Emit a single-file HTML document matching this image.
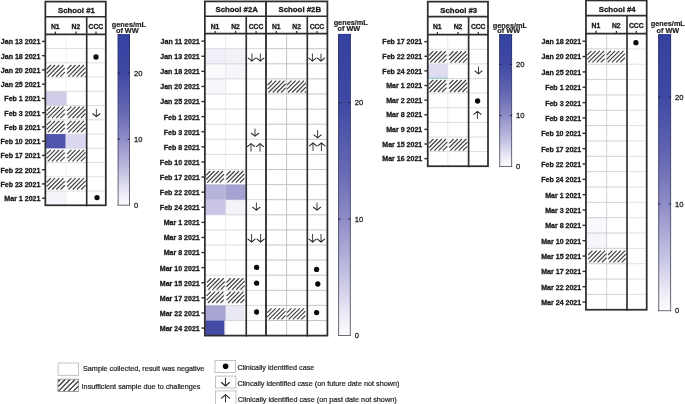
<!DOCTYPE html>
<html><head><meta charset="utf-8"><title>Figure</title>
<style>html,body{margin:0;padding:0;background:#fff;}body{width:685px;height:404px;overflow:hidden;}svg{display:block;will-change:transform;font-family:"Liberation Sans",sans-serif;}</style>
</head><body>
<svg width="685" height="404" viewBox="0 0 685 404">
<defs>
<linearGradient id="cb" x1="0" y1="0" x2="0" y2="1"><stop offset="0" stop-color="#3341a0"/><stop offset="0.23" stop-color="#3f49a4"/><stop offset="0.45" stop-color="#6668b3"/><stop offset="0.615" stop-color="#8f8dc7"/><stop offset="0.8" stop-color="#c3c1e2"/><stop offset="0.92" stop-color="#e9e8f5"/><stop offset="1" stop-color="#fdfdff"/></linearGradient>
<linearGradient id="cbb" gradientUnits="objectBoundingBox" x1="0" y1="0" x2="0" y2="1"><stop offset="0" stop-color="#262d6c"/><stop offset="0.5" stop-color="#4a4c78"/><stop offset="1" stop-color="#6c6c72"/></linearGradient>
</defs>
<rect width="685" height="404" fill="#fff"/>
<rect x="45.35" y="191.05" width="20.65" height="14.25" fill="#f4f4fb"/>
<line x1="45.35" y1="48.55" x2="105.8" y2="48.55" stroke="#d6d6d6" stroke-width="0.8"/>
<line x1="45.35" y1="62.8" x2="105.8" y2="62.8" stroke="#d6d6d6" stroke-width="0.8"/>
<line x1="45.35" y1="77.05" x2="105.8" y2="77.05" stroke="#d6d6d6" stroke-width="0.8"/>
<line x1="45.35" y1="91.3" x2="105.8" y2="91.3" stroke="#d6d6d6" stroke-width="0.8"/>
<line x1="45.35" y1="105.55" x2="105.8" y2="105.55" stroke="#d6d6d6" stroke-width="0.8"/>
<line x1="45.35" y1="119.8" x2="105.8" y2="119.8" stroke="#d6d6d6" stroke-width="0.8"/>
<line x1="45.35" y1="134.05" x2="105.8" y2="134.05" stroke="#d6d6d6" stroke-width="0.8"/>
<line x1="45.35" y1="148.3" x2="105.8" y2="148.3" stroke="#d6d6d6" stroke-width="0.8"/>
<line x1="45.35" y1="162.55" x2="105.8" y2="162.55" stroke="#d6d6d6" stroke-width="0.8"/>
<line x1="45.35" y1="176.8" x2="105.8" y2="176.8" stroke="#d6d6d6" stroke-width="0.8"/>
<line x1="45.35" y1="191.05" x2="105.8" y2="191.05" stroke="#d6d6d6" stroke-width="0.8"/>
<line x1="66" y1="34.3" x2="66" y2="205.3" stroke="#ececec" stroke-width="0.8"/>
<rect x="45.85" y="91.3" width="20.85" height="14.25" fill="#cfcde7"/>
<rect x="45.35" y="134.05" width="20.35" height="14.25" fill="#4f55aa"/>
<rect x="65.7" y="134.05" width="20.3" height="14.25" fill="#d9d8ee"/>
<path d="M46.55 69.3L50.85 65M46.55 73.5L55.05 65M47.7 76.55L59.25 65M51.9 76.55L63.45 65M56.1 76.55L64.8 67.85M60.3 76.55L64.8 72.05" fill="none" stroke="#404040" stroke-width="1.2" stroke-linecap="butt"/>
<path d="M67.1 69.3L71.4 65M67.1 73.5L75.6 65M68.25 76.55L79.8 65M72.45 76.55L84 65M76.65 76.55L85.55 67.65M80.85 76.55L85.55 71.85M85.05 76.55L85.55 76.05" fill="none" stroke="#404040" stroke-width="1.2" stroke-linecap="butt"/>
<path d="M46.55 110.9L50.85 106.6M46.55 115.1L55.05 106.6M47.65 118.2L59.25 106.6M51.85 118.2L63.45 106.6M56.05 118.2L64.8 109.45M60.25 118.2L64.8 113.65" fill="none" stroke="#404040" stroke-width="1.2" stroke-linecap="butt"/>
<path d="M67.1 110.9L71.4 106.6M67.1 115.1L75.6 106.6M68.2 118.2L79.8 106.6M72.4 118.2L84 106.6M76.6 118.2L85.55 109.25M80.8 118.2L85.55 113.45M85 118.2L85.55 117.65" fill="none" stroke="#404040" stroke-width="1.2" stroke-linecap="butt"/>
<path d="M46.55 125.2L50.85 120.9M46.55 129.4L55.05 120.9M47.75 132.4L59.25 120.9M51.95 132.4L63.45 120.9M56.15 132.4L64.8 123.75M60.35 132.4L64.8 127.95" fill="none" stroke="#404040" stroke-width="1.2" stroke-linecap="butt"/>
<path d="M67.1 125.2L71.4 120.9M67.1 129.4L75.6 120.9M68.3 132.4L79.8 120.9M72.5 132.4L84 120.9M76.7 132.4L85.55 123.55M80.9 132.4L85.55 127.75" fill="none" stroke="#404040" stroke-width="1.2" stroke-linecap="butt"/>
<path d="M46.55 154.1L50.85 149.8M46.55 158.3L55.05 149.8M47.75 161.3L59.25 149.8M51.95 161.3L63.45 149.8M56.15 161.3L64.8 152.65M60.35 161.3L64.8 156.85" fill="none" stroke="#404040" stroke-width="1.2" stroke-linecap="butt"/>
<path d="M67.1 154.1L71.4 149.8M67.1 158.3L75.6 149.8M68.3 161.3L79.8 149.8M72.5 161.3L84 149.8M76.7 161.3L85.55 152.45M80.9 161.3L85.55 156.65" fill="none" stroke="#404040" stroke-width="1.2" stroke-linecap="butt"/>
<path d="M46.55 182.5L50.85 178.2M46.55 186.7L55.05 178.2M47.95 189.5L59.25 178.2M52.15 189.5L63.45 178.2M56.35 189.5L64.8 181.05M60.55 189.5L64.8 185.25" fill="none" stroke="#404040" stroke-width="1.2" stroke-linecap="butt"/>
<path d="M67.1 182.5L71.4 178.2M67.1 186.7L75.6 178.2M68.5 189.5L79.8 178.2M72.7 189.5L84 178.2M76.9 189.5L85.55 180.85M81.1 189.5L85.55 185.05" fill="none" stroke="#404040" stroke-width="1.2" stroke-linecap="butt"/>
<circle cx="96" cy="57" r="2.65" fill="#0a0a0a"/>
<circle cx="97" cy="197.6" r="2.65" fill="#0a0a0a"/>
<path d="M96.35 108.9 V116.7" fill="none" stroke="#222" stroke-width="0.88" stroke-linecap="butt"/>
<path d="M92.75 113.75 L96.35 116.7 L99.95 113.75" fill="none" stroke="#222" stroke-width="1.03" stroke-linecap="round" stroke-linejoin="miter"/>
<rect x="45.35" y="1.6" width="60.45" height="203.7" fill="none" stroke="#2e2e2e" stroke-width="1.75"/>
<line x1="45.35" y1="16.7" x2="105.8" y2="16.7" stroke="#2e2e2e" stroke-width="1.65"/>
<line x1="45.35" y1="34.3" x2="105.8" y2="34.3" stroke="#2e2e2e" stroke-width="1.7"/>
<line x1="86.7" y1="16.7" x2="86.7" y2="206.3" stroke="#2e2e2e" stroke-width="1.65"/>
<text x="76.45" y="13.3" font-size="7.8" font-weight="bold" text-anchor="middle" fill="#1a1a1a" stroke="#1a1a1a" stroke-width="0.3">School #1</text>
<text x="55.3" y="29" font-size="6.75" font-weight="bold" text-anchor="middle" fill="#1a1a1a" stroke="#1a1a1a" stroke-width="0.3">N1</text>
<line x1="55.4" y1="31.6" x2="55.4" y2="34.3" stroke="#2e2e2e" stroke-width="1.25"/>
<text x="75.9" y="29" font-size="6.75" font-weight="bold" text-anchor="middle" fill="#1a1a1a" stroke="#1a1a1a" stroke-width="0.3">N2</text>
<line x1="76" y1="31.6" x2="76" y2="34.3" stroke="#2e2e2e" stroke-width="1.25"/>
<text x="95.9" y="29" font-size="6.75" font-weight="bold" text-anchor="middle" fill="#1a1a1a" stroke="#1a1a1a" stroke-width="0.3">CCC</text>
<line x1="96" y1="31.6" x2="96" y2="34.3" stroke="#2e2e2e" stroke-width="1.25"/>
<text x="40.4" y="44.32" font-size="7.05" font-weight="bold" text-anchor="end" fill="#1a1a1a" stroke="#1a1a1a" stroke-width="0.3">Jan 13 2021</text>
<line x1="41.95" y1="41.42" x2="45.35" y2="41.42" stroke="#2e2e2e" stroke-width="1.4"/>
<text x="40.4" y="58.57" font-size="7.05" font-weight="bold" text-anchor="end" fill="#1a1a1a" stroke="#1a1a1a" stroke-width="0.3">Jan 18 2021</text>
<line x1="41.95" y1="55.67" x2="45.35" y2="55.67" stroke="#2e2e2e" stroke-width="1.4"/>
<text x="40.4" y="72.83" font-size="7.05" font-weight="bold" text-anchor="end" fill="#1a1a1a" stroke="#1a1a1a" stroke-width="0.3">Jan 20 2021</text>
<line x1="41.95" y1="69.92" x2="45.35" y2="69.92" stroke="#2e2e2e" stroke-width="1.4"/>
<text x="40.4" y="87.08" font-size="7.05" font-weight="bold" text-anchor="end" fill="#1a1a1a" stroke="#1a1a1a" stroke-width="0.3">Jan 25 2021</text>
<line x1="41.95" y1="84.17" x2="45.35" y2="84.17" stroke="#2e2e2e" stroke-width="1.4"/>
<text x="40.4" y="101.33" font-size="7.05" font-weight="bold" text-anchor="end" fill="#1a1a1a" stroke="#1a1a1a" stroke-width="0.3">Feb 1 2021</text>
<line x1="41.95" y1="98.42" x2="45.35" y2="98.42" stroke="#2e2e2e" stroke-width="1.4"/>
<text x="40.4" y="115.58" font-size="7.05" font-weight="bold" text-anchor="end" fill="#1a1a1a" stroke="#1a1a1a" stroke-width="0.3">Feb 3 2021</text>
<line x1="41.95" y1="112.67" x2="45.35" y2="112.67" stroke="#2e2e2e" stroke-width="1.4"/>
<text x="40.4" y="129.82" font-size="7.05" font-weight="bold" text-anchor="end" fill="#1a1a1a" stroke="#1a1a1a" stroke-width="0.3">Feb 8 2021</text>
<line x1="41.95" y1="126.92" x2="45.35" y2="126.92" stroke="#2e2e2e" stroke-width="1.4"/>
<text x="40.4" y="144.08" font-size="7.05" font-weight="bold" text-anchor="end" fill="#1a1a1a" stroke="#1a1a1a" stroke-width="0.3">Feb 10 2021</text>
<line x1="41.95" y1="141.18" x2="45.35" y2="141.18" stroke="#2e2e2e" stroke-width="1.4"/>
<text x="40.4" y="158.33" font-size="7.05" font-weight="bold" text-anchor="end" fill="#1a1a1a" stroke="#1a1a1a" stroke-width="0.3">Feb 17 2021</text>
<line x1="41.95" y1="155.43" x2="45.35" y2="155.43" stroke="#2e2e2e" stroke-width="1.4"/>
<text x="40.4" y="172.58" font-size="7.05" font-weight="bold" text-anchor="end" fill="#1a1a1a" stroke="#1a1a1a" stroke-width="0.3">Feb 22 2021</text>
<line x1="41.95" y1="169.68" x2="45.35" y2="169.68" stroke="#2e2e2e" stroke-width="1.4"/>
<text x="40.4" y="186.83" font-size="7.05" font-weight="bold" text-anchor="end" fill="#1a1a1a" stroke="#1a1a1a" stroke-width="0.3">Feb 23 2021</text>
<line x1="41.95" y1="183.93" x2="45.35" y2="183.93" stroke="#2e2e2e" stroke-width="1.4"/>
<text x="40.4" y="201.08" font-size="7.05" font-weight="bold" text-anchor="end" fill="#1a1a1a" stroke="#1a1a1a" stroke-width="0.3">Mar 1 2021</text>
<line x1="41.95" y1="198.18" x2="45.35" y2="198.18" stroke="#2e2e2e" stroke-width="1.4"/>
<rect x="117.9" y="34.2" width="11.8" height="171.2" fill="url(#cb)"/>
<rect x="117.6" y="34.2" width="1" height="171.5" fill="url(#cbb)"/>
<rect x="129" y="34.2" width="1" height="171.5" fill="url(#cbb)"/>
<line x1="117.6" y1="205.2" x2="130" y2="205.2" stroke="#6a6a72" stroke-width="1"/>
<line x1="117.6" y1="34.5" x2="130" y2="34.5" stroke="#2c3580" stroke-width="0.6"/>
<text x="134" y="207.85" font-size="7.6" font-weight="normal" text-anchor="start" fill="#1c1c1c" stroke="#1c1c1c" stroke-width="0.26">0</text>
<line x1="117.6" y1="139.12" x2="120" y2="139.12" stroke="#1c1c30" stroke-width="0.9"/>
<line x1="127.6" y1="139.12" x2="130" y2="139.12" stroke="#1c1c30" stroke-width="0.9"/>
<text x="134" y="141.87" font-size="7.6" font-weight="normal" text-anchor="start" fill="#1c1c1c" stroke="#1c1c1c" stroke-width="0.26">10</text>
<line x1="117.6" y1="73.13" x2="120" y2="73.13" stroke="#1c1c30" stroke-width="0.9"/>
<line x1="127.6" y1="73.13" x2="130" y2="73.13" stroke="#1c1c30" stroke-width="0.9"/>
<text x="134" y="75.88" font-size="7.6" font-weight="normal" text-anchor="start" fill="#1c1c1c" stroke="#1c1c1c" stroke-width="0.26">20</text>
<text x="128.9" y="27" font-size="7.3" font-weight="bold" text-anchor="middle" fill="#1c1c1c" stroke="#1c1c1c" stroke-width="0.18">genes/mL</text>
<text x="127.3" y="32.6" font-size="7.3" font-weight="bold" text-anchor="middle" fill="#1c1c1c" stroke="#1c1c1c" stroke-width="0.18">of WW</text>
<rect x="204.85" y="48.7" width="20.75" height="15.1" fill="#f0f0f8"/>
<rect x="225.6" y="48.7" width="20.65" height="15.1" fill="#f2f2f9"/>
<rect x="204.85" y="63.8" width="20.75" height="15.1" fill="#fafafd"/>
<rect x="225.6" y="63.8" width="20.65" height="15.1" fill="#f6f6fb"/>
<rect x="204.85" y="78.9" width="20.75" height="15.1" fill="#f7f7fc"/>
<rect x="225.6" y="199.7" width="20.65" height="15.1" fill="#f4f3fa"/>
<rect x="225.6" y="305.4" width="18.8" height="15.1" fill="#eaeaf5"/>
<line x1="204.85" y1="48.7" x2="266" y2="48.7" stroke="#d0d0d0" stroke-width="0.8"/>
<line x1="204.85" y1="63.8" x2="266" y2="63.8" stroke="#d0d0d0" stroke-width="0.8"/>
<line x1="204.85" y1="78.9" x2="266" y2="78.9" stroke="#d0d0d0" stroke-width="0.8"/>
<line x1="204.85" y1="94" x2="266" y2="94" stroke="#d0d0d0" stroke-width="0.8"/>
<line x1="204.85" y1="109.1" x2="266" y2="109.1" stroke="#d0d0d0" stroke-width="0.8"/>
<line x1="204.85" y1="124.2" x2="266" y2="124.2" stroke="#d0d0d0" stroke-width="0.8"/>
<line x1="204.85" y1="139.3" x2="266" y2="139.3" stroke="#d0d0d0" stroke-width="0.8"/>
<line x1="204.85" y1="154.4" x2="266" y2="154.4" stroke="#d0d0d0" stroke-width="0.8"/>
<line x1="204.85" y1="169.5" x2="266" y2="169.5" stroke="#d0d0d0" stroke-width="0.8"/>
<line x1="204.85" y1="184.6" x2="266" y2="184.6" stroke="#d0d0d0" stroke-width="0.8"/>
<line x1="204.85" y1="199.7" x2="266" y2="199.7" stroke="#d0d0d0" stroke-width="0.8"/>
<line x1="204.85" y1="214.8" x2="266" y2="214.8" stroke="#d0d0d0" stroke-width="0.8"/>
<line x1="204.85" y1="229.9" x2="266" y2="229.9" stroke="#d0d0d0" stroke-width="0.8"/>
<line x1="204.85" y1="245" x2="266" y2="245" stroke="#d0d0d0" stroke-width="0.8"/>
<line x1="204.85" y1="260.1" x2="266" y2="260.1" stroke="#d0d0d0" stroke-width="0.8"/>
<line x1="204.85" y1="275.2" x2="266" y2="275.2" stroke="#d0d0d0" stroke-width="0.8"/>
<line x1="204.85" y1="290.3" x2="266" y2="290.3" stroke="#d0d0d0" stroke-width="0.8"/>
<line x1="204.85" y1="305.4" x2="266" y2="305.4" stroke="#d0d0d0" stroke-width="0.8"/>
<line x1="204.85" y1="320.5" x2="266" y2="320.5" stroke="#d0d0d0" stroke-width="0.8"/>
<line x1="225.6" y1="33.6" x2="225.6" y2="335.6" stroke="#e4e4e4" stroke-width="0.8"/>
<line x1="266" y1="48.7" x2="327.4" y2="48.7" stroke="#b6b6b6" stroke-width="0.8"/>
<line x1="266" y1="63.8" x2="327.4" y2="63.8" stroke="#b6b6b6" stroke-width="0.8"/>
<line x1="266" y1="78.9" x2="327.4" y2="78.9" stroke="#b6b6b6" stroke-width="0.8"/>
<line x1="266" y1="94" x2="327.4" y2="94" stroke="#b6b6b6" stroke-width="0.8"/>
<line x1="266" y1="109.1" x2="327.4" y2="109.1" stroke="#b6b6b6" stroke-width="0.8"/>
<line x1="266" y1="124.2" x2="327.4" y2="124.2" stroke="#b6b6b6" stroke-width="0.8"/>
<line x1="266" y1="139.3" x2="327.4" y2="139.3" stroke="#b6b6b6" stroke-width="0.8"/>
<line x1="266" y1="154.4" x2="327.4" y2="154.4" stroke="#b6b6b6" stroke-width="0.8"/>
<line x1="266" y1="169.5" x2="327.4" y2="169.5" stroke="#b6b6b6" stroke-width="0.8"/>
<line x1="266" y1="184.6" x2="327.4" y2="184.6" stroke="#b6b6b6" stroke-width="0.8"/>
<line x1="266" y1="199.7" x2="327.4" y2="199.7" stroke="#b6b6b6" stroke-width="0.8"/>
<line x1="266" y1="214.8" x2="327.4" y2="214.8" stroke="#b6b6b6" stroke-width="0.8"/>
<line x1="266" y1="229.9" x2="327.4" y2="229.9" stroke="#b6b6b6" stroke-width="0.8"/>
<line x1="266" y1="245" x2="327.4" y2="245" stroke="#b6b6b6" stroke-width="0.8"/>
<line x1="266" y1="260.1" x2="327.4" y2="260.1" stroke="#b6b6b6" stroke-width="0.8"/>
<line x1="266" y1="275.2" x2="327.4" y2="275.2" stroke="#b6b6b6" stroke-width="0.8"/>
<line x1="266" y1="290.3" x2="327.4" y2="290.3" stroke="#b6b6b6" stroke-width="0.8"/>
<line x1="266" y1="305.4" x2="327.4" y2="305.4" stroke="#b6b6b6" stroke-width="0.8"/>
<line x1="266" y1="320.5" x2="327.4" y2="320.5" stroke="#b6b6b6" stroke-width="0.8"/>
<line x1="286.6" y1="33.6" x2="286.6" y2="335.6" stroke="#b4b4b4" stroke-width="0.8"/>
<rect x="204.85" y="184.6" width="20.75" height="15.1" fill="#b6b3da"/>
<rect x="225.6" y="184.6" width="20.65" height="15.1" fill="#a5a1d1"/>
<rect x="204.85" y="199.7" width="20.75" height="15.1" fill="#c9c6e5"/>
<rect x="204.85" y="305.4" width="20.75" height="15.1" fill="#a9a5d2"/>
<rect x="205.3" y="320.5" width="19.1" height="15.1" fill="#444ba5"/>
<path d="M267.65 85L271.95 80.7M267.65 89.2L276.15 80.7M268.55 92.5L280.35 80.7M272.75 92.5L284.55 80.7M276.95 92.5L285.7 83.75M281.15 92.5L285.7 87.95" fill="none" stroke="#404040" stroke-width="1.2" stroke-linecap="butt"/>
<path d="M287.1 85L291.4 80.7M287.1 89.2L295.6 80.7M288 92.5L299.8 80.7M292.2 92.5L304 80.7M296.4 92.5L305.95 82.95M300.6 92.5L305.95 87.15M304.8 92.5L305.95 91.35" fill="none" stroke="#404040" stroke-width="1.2" stroke-linecap="butt"/>
<path d="M206.05 175.3L210.35 171M206.05 179.5L214.55 171M207.2 182.55L218.75 171M211.4 182.55L222.95 171M215.6 182.55L223.9 174.25M219.8 182.55L223.9 178.45" fill="none" stroke="#404040" stroke-width="1.2" stroke-linecap="butt"/>
<path d="M226.3 175.3L230.6 171M226.3 179.5L234.8 171M227.45 182.55L239 171M231.65 182.55L243.2 171M235.85 182.55L244.45 173.95M240.05 182.55L244.45 178.15" fill="none" stroke="#404040" stroke-width="1.2" stroke-linecap="butt"/>
<path d="M206.85 282.55L211.15 278.25M206.85 286.75L215.35 278.25M208.25 289.55L219.55 278.25M212.45 289.55L223.75 278.25M216.65 289.55L224.7 281.5M220.85 289.55L224.7 285.7" fill="none" stroke="#404040" stroke-width="1.2" stroke-linecap="butt"/>
<path d="M226.4 282.55L230.7 278.25M226.4 286.75L234.9 278.25M227.8 289.55L239.1 278.25M232 289.55L243.3 278.25M236.2 289.55L244.65 281.1M240.4 289.55L244.65 285.3" fill="none" stroke="#404040" stroke-width="1.2" stroke-linecap="butt"/>
<path d="M206.55 295.95L210.85 291.65M206.55 300.15L215.05 291.65M207.9 303L219.25 291.65M212.1 303L223.45 291.65M216.3 303L223.9 295.4M220.5 303L223.9 299.6" fill="none" stroke="#404040" stroke-width="1.2" stroke-linecap="butt"/>
<path d="M226.6 295.95L230.9 291.65M226.6 300.15L235.1 291.65M227.95 303L239.3 291.65M232.15 303L243.5 291.65M236.35 303L244.45 294.9M240.55 303L244.45 299.1" fill="none" stroke="#404040" stroke-width="1.2" stroke-linecap="butt"/>
<path d="M267.25 312.6L271.55 308.3M267.25 316.8L275.75 308.3M268.85 319.4L279.95 308.3M273.05 319.4L284.15 308.3M277.25 319.4L285.5 311.15M281.45 319.4L285.5 315.35" fill="none" stroke="#404040" stroke-width="1.2" stroke-linecap="butt"/>
<path d="M287.1 312.6L291.4 308.3M287.1 316.8L295.6 308.3M288.7 319.4L299.8 308.3M292.9 319.4L304 308.3M297.1 319.4L305.35 311.15M301.3 319.4L305.35 315.35" fill="none" stroke="#404040" stroke-width="1.2" stroke-linecap="butt"/>
<circle cx="256.6" cy="267.4" r="2.65" fill="#0a0a0a"/>
<circle cx="316.6" cy="269.4" r="2.65" fill="#0a0a0a"/>
<circle cx="256.6" cy="283.2" r="2.65" fill="#0a0a0a"/>
<circle cx="317.8" cy="284" r="2.65" fill="#0a0a0a"/>
<circle cx="256.5" cy="312" r="2.65" fill="#0a0a0a"/>
<circle cx="316.6" cy="312.6" r="2.65" fill="#0a0a0a"/>
<path d="M251.9 53.6 V61.1" fill="none" stroke="#222" stroke-width="0.88" stroke-linecap="butt"/>
<path d="M248.3 58.15 L251.9 61.1 L255.5 58.15" fill="none" stroke="#222" stroke-width="1.03" stroke-linecap="round" stroke-linejoin="miter"/>
<path d="M260.3 53.6 V61.1" fill="none" stroke="#222" stroke-width="0.88" stroke-linecap="butt"/>
<path d="M256.7 58.15 L260.3 61.1 L263.9 58.15" fill="none" stroke="#222" stroke-width="1.03" stroke-linecap="round" stroke-linejoin="miter"/>
<path d="M312.4 53.6 V61.1" fill="none" stroke="#222" stroke-width="0.88" stroke-linecap="butt"/>
<path d="M308.8 58.15 L312.4 61.1 L316 58.15" fill="none" stroke="#222" stroke-width="1.03" stroke-linecap="round" stroke-linejoin="miter"/>
<path d="M321 53.6 V61.1" fill="none" stroke="#222" stroke-width="0.88" stroke-linecap="butt"/>
<path d="M317.4 58.15 L321 61.1 L324.6 58.15" fill="none" stroke="#222" stroke-width="1.03" stroke-linecap="round" stroke-linejoin="miter"/>
<path d="M255 128.6 V136.2" fill="none" stroke="#222" stroke-width="0.88" stroke-linecap="butt"/>
<path d="M251.4 133.25 L255 136.2 L258.6 133.25" fill="none" stroke="#222" stroke-width="1.03" stroke-linecap="round" stroke-linejoin="miter"/>
<path d="M317.6 130 V137.8" fill="none" stroke="#222" stroke-width="0.88" stroke-linecap="butt"/>
<path d="M314 134.85 L317.6 137.8 L321.2 134.85" fill="none" stroke="#222" stroke-width="1.03" stroke-linecap="round" stroke-linejoin="miter"/>
<path d="M251 151.6 V143.6" fill="none" stroke="#222" stroke-width="0.88" stroke-linecap="butt"/>
<path d="M247.4 146.55 L251 143.6 L254.6 146.55" fill="none" stroke="#222" stroke-width="1.03" stroke-linecap="round" stroke-linejoin="miter"/>
<path d="M260 151.6 V143.6" fill="none" stroke="#222" stroke-width="0.88" stroke-linecap="butt"/>
<path d="M256.4 146.55 L260 143.6 L263.6 146.55" fill="none" stroke="#222" stroke-width="1.03" stroke-linecap="round" stroke-linejoin="miter"/>
<path d="M313 151 V143" fill="none" stroke="#222" stroke-width="0.88" stroke-linecap="butt"/>
<path d="M309.4 145.95 L313 143 L316.6 145.95" fill="none" stroke="#222" stroke-width="1.03" stroke-linecap="round" stroke-linejoin="miter"/>
<path d="M321.4 151 V143" fill="none" stroke="#222" stroke-width="0.88" stroke-linecap="butt"/>
<path d="M317.8 145.95 L321.4 143 L325 145.95" fill="none" stroke="#222" stroke-width="1.03" stroke-linecap="round" stroke-linejoin="miter"/>
<path d="M256.4 202.6 V210.2" fill="none" stroke="#222" stroke-width="0.88" stroke-linecap="butt"/>
<path d="M252.8 207.25 L256.4 210.2 L260 207.25" fill="none" stroke="#222" stroke-width="1.03" stroke-linecap="round" stroke-linejoin="miter"/>
<path d="M317 202.6 V210.2" fill="none" stroke="#222" stroke-width="0.88" stroke-linecap="butt"/>
<path d="M313.4 207.25 L317 210.2 L320.6 207.25" fill="none" stroke="#222" stroke-width="1.03" stroke-linecap="round" stroke-linejoin="miter"/>
<path d="M251.6 234 V242" fill="none" stroke="#222" stroke-width="0.88" stroke-linecap="butt"/>
<path d="M248 239.05 L251.6 242 L255.2 239.05" fill="none" stroke="#222" stroke-width="1.03" stroke-linecap="round" stroke-linejoin="miter"/>
<path d="M260.6 234 V242" fill="none" stroke="#222" stroke-width="0.88" stroke-linecap="butt"/>
<path d="M257 239.05 L260.6 242 L264.2 239.05" fill="none" stroke="#222" stroke-width="1.03" stroke-linecap="round" stroke-linejoin="miter"/>
<path d="M312.6 234 V242" fill="none" stroke="#222" stroke-width="0.88" stroke-linecap="butt"/>
<path d="M309 239.05 L312.6 242 L316.2 239.05" fill="none" stroke="#222" stroke-width="1.03" stroke-linecap="round" stroke-linejoin="miter"/>
<path d="M321 234 V242" fill="none" stroke="#222" stroke-width="0.88" stroke-linecap="butt"/>
<path d="M317.4 239.05 L321 242 L324.6 239.05" fill="none" stroke="#222" stroke-width="1.03" stroke-linecap="round" stroke-linejoin="miter"/>
<rect x="204.85" y="1.4" width="122.55" height="334.2" fill="none" stroke="#2e2e2e" stroke-width="1.75"/>
<line x1="204.85" y1="16.2" x2="327.4" y2="16.2" stroke="#2e2e2e" stroke-width="1.65"/>
<line x1="204.85" y1="33.6" x2="327.4" y2="33.6" stroke="#2e2e2e" stroke-width="1.7"/>
<line x1="246.25" y1="16.2" x2="246.25" y2="336.6" stroke="#2e2e2e" stroke-width="1.65"/>
<line x1="307.3" y1="16.2" x2="307.3" y2="336.6" stroke="#2e2e2e" stroke-width="1.65"/>
<line x1="266" y1="1.4" x2="266" y2="335.6" stroke="#2e2e2e" stroke-width="1.85"/>
<text x="236.7" y="12" font-size="7.8" font-weight="bold" text-anchor="middle" fill="#1a1a1a" stroke="#1a1a1a" stroke-width="0.3">School #2A</text>
<text x="299.8" y="12" font-size="7.8" font-weight="bold" text-anchor="middle" fill="#1a1a1a" stroke="#1a1a1a" stroke-width="0.3">School #2B</text>
<text x="215" y="28.7" font-size="6.75" font-weight="bold" text-anchor="middle" fill="#1a1a1a" stroke="#1a1a1a" stroke-width="0.3">N1</text>
<line x1="215.1" y1="30.9" x2="215.1" y2="33.6" stroke="#2e2e2e" stroke-width="1.25"/>
<text x="235.45" y="28.7" font-size="6.75" font-weight="bold" text-anchor="middle" fill="#1a1a1a" stroke="#1a1a1a" stroke-width="0.3">N2</text>
<line x1="235.55" y1="30.9" x2="235.55" y2="33.6" stroke="#2e2e2e" stroke-width="1.25"/>
<text x="256" y="28.7" font-size="6.75" font-weight="bold" text-anchor="middle" fill="#1a1a1a" stroke="#1a1a1a" stroke-width="0.3">CCC</text>
<line x1="256.1" y1="30.9" x2="256.1" y2="33.6" stroke="#2e2e2e" stroke-width="1.25"/>
<text x="276.25" y="28.7" font-size="6.75" font-weight="bold" text-anchor="middle" fill="#1a1a1a" stroke="#1a1a1a" stroke-width="0.3">N1</text>
<line x1="276.35" y1="30.9" x2="276.35" y2="33.6" stroke="#2e2e2e" stroke-width="1.25"/>
<text x="296.6" y="28.7" font-size="6.75" font-weight="bold" text-anchor="middle" fill="#1a1a1a" stroke="#1a1a1a" stroke-width="0.3">N2</text>
<line x1="296.7" y1="30.9" x2="296.7" y2="33.6" stroke="#2e2e2e" stroke-width="1.25"/>
<text x="316.95" y="28.7" font-size="6.75" font-weight="bold" text-anchor="middle" fill="#1a1a1a" stroke="#1a1a1a" stroke-width="0.3">CCC</text>
<line x1="317.05" y1="30.9" x2="317.05" y2="33.6" stroke="#2e2e2e" stroke-width="1.25"/>
<text x="199.8" y="44.05" font-size="7.05" font-weight="bold" text-anchor="end" fill="#1a1a1a" stroke="#1a1a1a" stroke-width="0.3">Jan 11 2021</text>
<line x1="201.45" y1="41.15" x2="204.85" y2="41.15" stroke="#2e2e2e" stroke-width="1.4"/>
<text x="199.8" y="59.15" font-size="7.05" font-weight="bold" text-anchor="end" fill="#1a1a1a" stroke="#1a1a1a" stroke-width="0.3">Jan 13 2021</text>
<line x1="201.45" y1="56.25" x2="204.85" y2="56.25" stroke="#2e2e2e" stroke-width="1.4"/>
<text x="199.8" y="74.25" font-size="7.05" font-weight="bold" text-anchor="end" fill="#1a1a1a" stroke="#1a1a1a" stroke-width="0.3">Jan 18 2021</text>
<line x1="201.45" y1="71.35" x2="204.85" y2="71.35" stroke="#2e2e2e" stroke-width="1.4"/>
<text x="199.8" y="89.35" font-size="7.05" font-weight="bold" text-anchor="end" fill="#1a1a1a" stroke="#1a1a1a" stroke-width="0.3">Jan 20 2021</text>
<line x1="201.45" y1="86.45" x2="204.85" y2="86.45" stroke="#2e2e2e" stroke-width="1.4"/>
<text x="199.8" y="104.45" font-size="7.05" font-weight="bold" text-anchor="end" fill="#1a1a1a" stroke="#1a1a1a" stroke-width="0.3">Jan 25 2021</text>
<line x1="201.45" y1="101.55" x2="204.85" y2="101.55" stroke="#2e2e2e" stroke-width="1.4"/>
<text x="199.8" y="119.55" font-size="7.05" font-weight="bold" text-anchor="end" fill="#1a1a1a" stroke="#1a1a1a" stroke-width="0.3">Feb 1 2021</text>
<line x1="201.45" y1="116.65" x2="204.85" y2="116.65" stroke="#2e2e2e" stroke-width="1.4"/>
<text x="199.8" y="134.65" font-size="7.05" font-weight="bold" text-anchor="end" fill="#1a1a1a" stroke="#1a1a1a" stroke-width="0.3">Feb 3 2021</text>
<line x1="201.45" y1="131.75" x2="204.85" y2="131.75" stroke="#2e2e2e" stroke-width="1.4"/>
<text x="199.8" y="149.75" font-size="7.05" font-weight="bold" text-anchor="end" fill="#1a1a1a" stroke="#1a1a1a" stroke-width="0.3">Feb 8 2021</text>
<line x1="201.45" y1="146.85" x2="204.85" y2="146.85" stroke="#2e2e2e" stroke-width="1.4"/>
<text x="199.8" y="164.85" font-size="7.05" font-weight="bold" text-anchor="end" fill="#1a1a1a" stroke="#1a1a1a" stroke-width="0.3">Feb 10 2021</text>
<line x1="201.45" y1="161.95" x2="204.85" y2="161.95" stroke="#2e2e2e" stroke-width="1.4"/>
<text x="199.8" y="179.95" font-size="7.05" font-weight="bold" text-anchor="end" fill="#1a1a1a" stroke="#1a1a1a" stroke-width="0.3">Feb 17 2021</text>
<line x1="201.45" y1="177.05" x2="204.85" y2="177.05" stroke="#2e2e2e" stroke-width="1.4"/>
<text x="199.8" y="195.05" font-size="7.05" font-weight="bold" text-anchor="end" fill="#1a1a1a" stroke="#1a1a1a" stroke-width="0.3">Feb 22 2021</text>
<line x1="201.45" y1="192.15" x2="204.85" y2="192.15" stroke="#2e2e2e" stroke-width="1.4"/>
<text x="199.8" y="210.15" font-size="7.05" font-weight="bold" text-anchor="end" fill="#1a1a1a" stroke="#1a1a1a" stroke-width="0.3">Feb 24 2021</text>
<line x1="201.45" y1="207.25" x2="204.85" y2="207.25" stroke="#2e2e2e" stroke-width="1.4"/>
<text x="199.8" y="225.25" font-size="7.05" font-weight="bold" text-anchor="end" fill="#1a1a1a" stroke="#1a1a1a" stroke-width="0.3">Mar 1 2021</text>
<line x1="201.45" y1="222.35" x2="204.85" y2="222.35" stroke="#2e2e2e" stroke-width="1.4"/>
<text x="199.8" y="240.35" font-size="7.05" font-weight="bold" text-anchor="end" fill="#1a1a1a" stroke="#1a1a1a" stroke-width="0.3">Mar 3 2021</text>
<line x1="201.45" y1="237.45" x2="204.85" y2="237.45" stroke="#2e2e2e" stroke-width="1.4"/>
<text x="199.8" y="255.45" font-size="7.05" font-weight="bold" text-anchor="end" fill="#1a1a1a" stroke="#1a1a1a" stroke-width="0.3">Mar 8 2021</text>
<line x1="201.45" y1="252.55" x2="204.85" y2="252.55" stroke="#2e2e2e" stroke-width="1.4"/>
<text x="199.8" y="270.55" font-size="7.05" font-weight="bold" text-anchor="end" fill="#1a1a1a" stroke="#1a1a1a" stroke-width="0.3">Mar 10 2021</text>
<line x1="201.45" y1="267.65" x2="204.85" y2="267.65" stroke="#2e2e2e" stroke-width="1.4"/>
<text x="199.8" y="285.65" font-size="7.05" font-weight="bold" text-anchor="end" fill="#1a1a1a" stroke="#1a1a1a" stroke-width="0.3">Mar 15 2021</text>
<line x1="201.45" y1="282.75" x2="204.85" y2="282.75" stroke="#2e2e2e" stroke-width="1.4"/>
<text x="199.8" y="300.75" font-size="7.05" font-weight="bold" text-anchor="end" fill="#1a1a1a" stroke="#1a1a1a" stroke-width="0.3">Mar 17 2021</text>
<line x1="201.45" y1="297.85" x2="204.85" y2="297.85" stroke="#2e2e2e" stroke-width="1.4"/>
<text x="199.8" y="315.85" font-size="7.05" font-weight="bold" text-anchor="end" fill="#1a1a1a" stroke="#1a1a1a" stroke-width="0.3">Mar 22 2021</text>
<line x1="201.45" y1="312.95" x2="204.85" y2="312.95" stroke="#2e2e2e" stroke-width="1.4"/>
<text x="199.8" y="330.95" font-size="7.05" font-weight="bold" text-anchor="end" fill="#1a1a1a" stroke="#1a1a1a" stroke-width="0.3">Mar 24 2021</text>
<line x1="201.45" y1="328.05" x2="204.85" y2="328.05" stroke="#2e2e2e" stroke-width="1.4"/>
<rect x="338.4" y="34" width="12.1" height="301.7" fill="url(#cb)"/>
<rect x="338.1" y="34" width="1" height="302" fill="url(#cbb)"/>
<rect x="349.8" y="34" width="1" height="302" fill="url(#cbb)"/>
<line x1="338.1" y1="335.5" x2="350.8" y2="335.5" stroke="#6a6a72" stroke-width="1"/>
<line x1="338.1" y1="34.3" x2="350.8" y2="34.3" stroke="#2c3580" stroke-width="0.6"/>
<text x="354.8" y="338.15" font-size="7.6" font-weight="normal" text-anchor="start" fill="#1c1c1c" stroke="#1c1c1c" stroke-width="0.26">0</text>
<line x1="338.1" y1="219.03" x2="340.5" y2="219.03" stroke="#1c1c30" stroke-width="0.9"/>
<line x1="348.4" y1="219.03" x2="350.8" y2="219.03" stroke="#1c1c30" stroke-width="0.9"/>
<text x="354.8" y="221.78" font-size="7.6" font-weight="normal" text-anchor="start" fill="#1c1c1c" stroke="#1c1c1c" stroke-width="0.26">10</text>
<line x1="338.1" y1="102.66" x2="340.5" y2="102.66" stroke="#1c1c30" stroke-width="0.9"/>
<line x1="348.4" y1="102.66" x2="350.8" y2="102.66" stroke="#1c1c30" stroke-width="0.9"/>
<text x="354.8" y="105.41" font-size="7.6" font-weight="normal" text-anchor="start" fill="#1c1c1c" stroke="#1c1c1c" stroke-width="0.26">20</text>
<text x="350.7" y="25.1" font-size="7.3" font-weight="bold" text-anchor="middle" fill="#1c1c1c" stroke="#1c1c1c" stroke-width="0.18">genes/mL</text>
<text x="348.9" y="30.7" font-size="7.3" font-weight="bold" text-anchor="middle" fill="#1c1c1c" stroke="#1c1c1c" stroke-width="0.18">of WW</text>
<line x1="427.75" y1="49.27" x2="488" y2="49.27" stroke="#d2d2d2" stroke-width="0.8"/>
<line x1="427.75" y1="63.89" x2="488" y2="63.89" stroke="#d2d2d2" stroke-width="0.8"/>
<line x1="427.75" y1="78.51" x2="488" y2="78.51" stroke="#d2d2d2" stroke-width="0.8"/>
<line x1="427.75" y1="93.13" x2="488" y2="93.13" stroke="#d2d2d2" stroke-width="0.8"/>
<line x1="427.75" y1="107.75" x2="488" y2="107.75" stroke="#d2d2d2" stroke-width="0.8"/>
<line x1="427.75" y1="122.37" x2="488" y2="122.37" stroke="#d2d2d2" stroke-width="0.8"/>
<line x1="427.75" y1="136.99" x2="488" y2="136.99" stroke="#d2d2d2" stroke-width="0.8"/>
<line x1="427.75" y1="151.61" x2="488" y2="151.61" stroke="#d2d2d2" stroke-width="0.8"/>
<line x1="447.8" y1="34.65" x2="447.8" y2="166.23" stroke="#e2e2e2" stroke-width="0.8"/>
<rect x="427.75" y="63.89" width="20.05" height="14.62" fill="#dddcf0"/>
<path d="M428.85 55.55L433.15 51.25M428.85 59.75L437.35 51.25M430.2 62.6L441.55 51.25M434.4 62.6L445.75 51.25M438.6 62.6L446.6 54.6M442.8 62.6L446.6 58.8" fill="none" stroke="#404040" stroke-width="1.2" stroke-linecap="butt"/>
<path d="M449.1 55.55L453.4 51.25M449.1 59.75L457.6 51.25M450.45 62.6L461.8 51.25M454.65 62.6L466 51.25M458.85 62.6L467.25 54.2M463.05 62.6L467.25 58.4" fill="none" stroke="#404040" stroke-width="1.2" stroke-linecap="butt"/>
<path d="M428.85 84.3L433.15 80M428.85 88.5L437.35 80M429.55 92L441.55 80M433.75 92L445.75 80M437.95 92L446.6 83.35M442.15 92L446.6 87.55" fill="none" stroke="#404040" stroke-width="1.2" stroke-linecap="butt"/>
<path d="M449.1 84.3L453.4 80M449.1 88.5L457.6 80M449.8 92L461.8 80M454 92L466 80M458.2 92L467.25 82.95M462.4 92L467.25 87.15M466.6 92L467.25 91.35" fill="none" stroke="#404040" stroke-width="1.2" stroke-linecap="butt"/>
<path d="M429.15 143.3L433.45 139M429.15 147.5L437.65 139M430.15 150.7L441.85 139M434.35 150.7L446.05 139M438.55 150.7L447.3 141.95M442.75 150.7L447.3 146.15" fill="none" stroke="#404040" stroke-width="1.2" stroke-linecap="butt"/>
<path d="M449.3 143.3L453.6 139M449.3 147.5L457.8 139M450.3 150.7L462 139M454.5 150.7L466.2 139M458.7 150.7L467.25 142.15M462.9 150.7L467.25 146.35" fill="none" stroke="#404040" stroke-width="1.2" stroke-linecap="butt"/>
<circle cx="477.6" cy="101" r="2.65" fill="#0a0a0a"/>
<path d="M478.5 66.4 V73.9" fill="none" stroke="#222" stroke-width="0.88" stroke-linecap="butt"/>
<path d="M474.9 70.95 L478.5 73.9 L482.1 70.95" fill="none" stroke="#222" stroke-width="1.03" stroke-linecap="round" stroke-linejoin="miter"/>
<path d="M477.4 119 V111.4" fill="none" stroke="#222" stroke-width="0.88" stroke-linecap="butt"/>
<path d="M473.8 114.35 L477.4 111.4 L481 114.35" fill="none" stroke="#222" stroke-width="1.03" stroke-linecap="round" stroke-linejoin="miter"/>
<rect x="427.75" y="1.65" width="60.25" height="164.58" fill="none" stroke="#2e2e2e" stroke-width="1.75"/>
<line x1="427.75" y1="16.55" x2="488" y2="16.55" stroke="#2e2e2e" stroke-width="1.65"/>
<line x1="427.75" y1="34.65" x2="488" y2="34.65" stroke="#2e2e2e" stroke-width="1.7"/>
<line x1="468.6" y1="16.55" x2="468.6" y2="167.23" stroke="#2e2e2e" stroke-width="1.65"/>
<text x="458.75" y="13.1" font-size="7.8" font-weight="bold" text-anchor="middle" fill="#1a1a1a" stroke="#1a1a1a" stroke-width="0.3">School #3</text>
<text x="437.3" y="29" font-size="6.75" font-weight="bold" text-anchor="middle" fill="#1a1a1a" stroke="#1a1a1a" stroke-width="0.3">N1</text>
<line x1="437.4" y1="31.95" x2="437.4" y2="34.65" stroke="#2e2e2e" stroke-width="1.25"/>
<text x="458" y="29" font-size="6.75" font-weight="bold" text-anchor="middle" fill="#1a1a1a" stroke="#1a1a1a" stroke-width="0.3">N2</text>
<line x1="458.1" y1="31.95" x2="458.1" y2="34.65" stroke="#2e2e2e" stroke-width="1.25"/>
<text x="478.2" y="29" font-size="6.75" font-weight="bold" text-anchor="middle" fill="#1a1a1a" stroke="#1a1a1a" stroke-width="0.3">CCC</text>
<line x1="478.3" y1="31.95" x2="478.3" y2="34.65" stroke="#2e2e2e" stroke-width="1.25"/>
<text x="422.3" y="44.31" font-size="7.05" font-weight="bold" text-anchor="end" fill="#1a1a1a" stroke="#1a1a1a" stroke-width="0.3">Feb 17 2021</text>
<line x1="424.35" y1="41.66" x2="427.75" y2="41.66" stroke="#2e2e2e" stroke-width="1.4"/>
<text x="422.3" y="58.93" font-size="7.05" font-weight="bold" text-anchor="end" fill="#1a1a1a" stroke="#1a1a1a" stroke-width="0.3">Feb 22 2021</text>
<line x1="424.35" y1="56.28" x2="427.75" y2="56.28" stroke="#2e2e2e" stroke-width="1.4"/>
<text x="422.3" y="73.55" font-size="7.05" font-weight="bold" text-anchor="end" fill="#1a1a1a" stroke="#1a1a1a" stroke-width="0.3">Feb 24 2021</text>
<line x1="424.35" y1="70.9" x2="427.75" y2="70.9" stroke="#2e2e2e" stroke-width="1.4"/>
<text x="422.3" y="88.17" font-size="7.05" font-weight="bold" text-anchor="end" fill="#1a1a1a" stroke="#1a1a1a" stroke-width="0.3">Mar 1 2021</text>
<line x1="424.35" y1="85.52" x2="427.75" y2="85.52" stroke="#2e2e2e" stroke-width="1.4"/>
<text x="422.3" y="102.79" font-size="7.05" font-weight="bold" text-anchor="end" fill="#1a1a1a" stroke="#1a1a1a" stroke-width="0.3">Mar 2 2021</text>
<line x1="424.35" y1="100.14" x2="427.75" y2="100.14" stroke="#2e2e2e" stroke-width="1.4"/>
<text x="422.3" y="117.41" font-size="7.05" font-weight="bold" text-anchor="end" fill="#1a1a1a" stroke="#1a1a1a" stroke-width="0.3">Mar 8 2021</text>
<line x1="424.35" y1="114.76" x2="427.75" y2="114.76" stroke="#2e2e2e" stroke-width="1.4"/>
<text x="422.3" y="132.03" font-size="7.05" font-weight="bold" text-anchor="end" fill="#1a1a1a" stroke="#1a1a1a" stroke-width="0.3">Mar 9 2021</text>
<line x1="424.35" y1="129.38" x2="427.75" y2="129.38" stroke="#2e2e2e" stroke-width="1.4"/>
<text x="422.3" y="146.65" font-size="7.05" font-weight="bold" text-anchor="end" fill="#1a1a1a" stroke="#1a1a1a" stroke-width="0.3">Mar 15 2021</text>
<line x1="424.35" y1="144" x2="427.75" y2="144" stroke="#2e2e2e" stroke-width="1.4"/>
<text x="422.3" y="161.27" font-size="7.05" font-weight="bold" text-anchor="end" fill="#1a1a1a" stroke="#1a1a1a" stroke-width="0.3">Mar 16 2021</text>
<line x1="424.35" y1="158.62" x2="427.75" y2="158.62" stroke="#2e2e2e" stroke-width="1.4"/>
<rect x="499.5" y="34.2" width="12.3" height="132.5" fill="url(#cb)"/>
<rect x="499.2" y="34.2" width="1" height="132.8" fill="url(#cbb)"/>
<rect x="511.1" y="34.2" width="1" height="132.8" fill="url(#cbb)"/>
<line x1="499.2" y1="166.5" x2="512.1" y2="166.5" stroke="#6a6a72" stroke-width="1"/>
<line x1="499.2" y1="34.5" x2="512.1" y2="34.5" stroke="#2c3580" stroke-width="0.6"/>
<text x="516.1" y="169.15" font-size="7.6" font-weight="normal" text-anchor="start" fill="#1c1c1c" stroke="#1c1c1c" stroke-width="0.26">0</text>
<line x1="499.2" y1="115.36" x2="501.6" y2="115.36" stroke="#1c1c30" stroke-width="0.9"/>
<line x1="509.7" y1="115.36" x2="512.1" y2="115.36" stroke="#1c1c30" stroke-width="0.9"/>
<text x="516.1" y="118.11" font-size="7.6" font-weight="normal" text-anchor="start" fill="#1c1c1c" stroke="#1c1c1c" stroke-width="0.26">10</text>
<line x1="499.2" y1="64.32" x2="501.6" y2="64.32" stroke="#1c1c30" stroke-width="0.9"/>
<line x1="509.7" y1="64.32" x2="512.1" y2="64.32" stroke="#1c1c30" stroke-width="0.9"/>
<text x="516.1" y="67.07" font-size="7.6" font-weight="normal" text-anchor="start" fill="#1c1c1c" stroke="#1c1c1c" stroke-width="0.26">20</text>
<text x="509.9" y="27.7" font-size="7.3" font-weight="bold" text-anchor="middle" fill="#1c1c1c" stroke="#1c1c1c" stroke-width="0.18">genes/mL</text>
<text x="508.7" y="32.8" font-size="7.3" font-weight="bold" text-anchor="middle" fill="#1c1c1c" stroke="#1c1c1c" stroke-width="0.18">of WW</text>
<rect x="585.95" y="217.68" width="20.65" height="15.34" fill="#f9f9fd"/>
<rect x="585.95" y="233.02" width="20.65" height="15.34" fill="#f5f6fc"/>
<line x1="585.95" y1="48.89" x2="627" y2="48.89" stroke="#c4c4c4" stroke-width="0.8"/>
<line x1="627" y1="48.89" x2="646.7" y2="48.89" stroke="#dadada" stroke-width="0.8"/>
<line x1="585.95" y1="64.24" x2="627" y2="64.24" stroke="#c4c4c4" stroke-width="0.8"/>
<line x1="627" y1="64.24" x2="646.7" y2="64.24" stroke="#dadada" stroke-width="0.8"/>
<line x1="585.95" y1="79.58" x2="627" y2="79.58" stroke="#c4c4c4" stroke-width="0.8"/>
<line x1="627" y1="79.58" x2="646.7" y2="79.58" stroke="#dadada" stroke-width="0.8"/>
<line x1="585.95" y1="94.93" x2="627" y2="94.93" stroke="#c4c4c4" stroke-width="0.8"/>
<line x1="627" y1="94.93" x2="646.7" y2="94.93" stroke="#dadada" stroke-width="0.8"/>
<line x1="585.95" y1="110.27" x2="627" y2="110.27" stroke="#c4c4c4" stroke-width="0.8"/>
<line x1="627" y1="110.27" x2="646.7" y2="110.27" stroke="#dadada" stroke-width="0.8"/>
<line x1="585.95" y1="125.61" x2="627" y2="125.61" stroke="#c4c4c4" stroke-width="0.8"/>
<line x1="627" y1="125.61" x2="646.7" y2="125.61" stroke="#dadada" stroke-width="0.8"/>
<line x1="585.95" y1="140.96" x2="627" y2="140.96" stroke="#c4c4c4" stroke-width="0.8"/>
<line x1="627" y1="140.96" x2="646.7" y2="140.96" stroke="#dadada" stroke-width="0.8"/>
<line x1="585.95" y1="156.3" x2="627" y2="156.3" stroke="#c4c4c4" stroke-width="0.8"/>
<line x1="627" y1="156.3" x2="646.7" y2="156.3" stroke="#dadada" stroke-width="0.8"/>
<line x1="585.95" y1="171.65" x2="627" y2="171.65" stroke="#c4c4c4" stroke-width="0.8"/>
<line x1="627" y1="171.65" x2="646.7" y2="171.65" stroke="#dadada" stroke-width="0.8"/>
<line x1="585.95" y1="186.99" x2="627" y2="186.99" stroke="#c4c4c4" stroke-width="0.8"/>
<line x1="627" y1="186.99" x2="646.7" y2="186.99" stroke="#dadada" stroke-width="0.8"/>
<line x1="585.95" y1="202.33" x2="627" y2="202.33" stroke="#c4c4c4" stroke-width="0.8"/>
<line x1="627" y1="202.33" x2="646.7" y2="202.33" stroke="#dadada" stroke-width="0.8"/>
<line x1="585.95" y1="217.68" x2="627" y2="217.68" stroke="#c4c4c4" stroke-width="0.8"/>
<line x1="627" y1="217.68" x2="646.7" y2="217.68" stroke="#dadada" stroke-width="0.8"/>
<line x1="585.95" y1="233.02" x2="627" y2="233.02" stroke="#c4c4c4" stroke-width="0.8"/>
<line x1="627" y1="233.02" x2="646.7" y2="233.02" stroke="#dadada" stroke-width="0.8"/>
<line x1="585.95" y1="248.37" x2="627" y2="248.37" stroke="#c4c4c4" stroke-width="0.8"/>
<line x1="627" y1="248.37" x2="646.7" y2="248.37" stroke="#dadada" stroke-width="0.8"/>
<line x1="585.95" y1="263.71" x2="627" y2="263.71" stroke="#c4c4c4" stroke-width="0.8"/>
<line x1="627" y1="263.71" x2="646.7" y2="263.71" stroke="#dadada" stroke-width="0.8"/>
<line x1="585.95" y1="279.05" x2="627" y2="279.05" stroke="#c4c4c4" stroke-width="0.8"/>
<line x1="627" y1="279.05" x2="646.7" y2="279.05" stroke="#dadada" stroke-width="0.8"/>
<line x1="585.95" y1="294.4" x2="627" y2="294.4" stroke="#c4c4c4" stroke-width="0.8"/>
<line x1="627" y1="294.4" x2="646.7" y2="294.4" stroke="#dadada" stroke-width="0.8"/>
<line x1="606.6" y1="33.55" x2="606.6" y2="309.74" stroke="#c4c4c4" stroke-width="0.8"/>
<path d="M587.15 55.1L591.45 50.8M587.15 59.3L595.65 50.8M588.25 62.4L599.85 50.8M592.45 62.4L604.05 50.8M596.65 62.4L604.7 54.35M600.85 62.4L604.7 58.55" fill="none" stroke="#404040" stroke-width="1.2" stroke-linecap="butt"/>
<path d="M606.6 55.1L610.9 50.8M606.6 59.3L615.1 50.8M607.7 62.4L619.3 50.8M611.9 62.4L623.5 50.8M616.1 62.4L624.95 53.55M620.3 62.4L624.95 57.75" fill="none" stroke="#404040" stroke-width="1.2" stroke-linecap="butt"/>
<path d="M588.15 255L592.45 250.7M588.15 259.2L596.65 250.7M589.25 262.3L600.85 250.7M593.45 262.3L605.05 250.7M597.65 262.3L606.4 253.55M601.85 262.3L606.4 257.75" fill="none" stroke="#404040" stroke-width="1.2" stroke-linecap="butt"/>
<path d="M608.1 255L612.4 250.7M608.1 259.2L616.6 250.7M609.2 262.3L620.8 250.7M613.4 262.3L625 250.7M617.6 262.3L625.75 254.15M621.8 262.3L625.75 258.35" fill="none" stroke="#404040" stroke-width="1.2" stroke-linecap="butt"/>
<circle cx="635.9" cy="42.65" r="2.65" fill="#0a0a0a"/>
<rect x="585.95" y="0.45" width="60.75" height="309.29" fill="none" stroke="#2e2e2e" stroke-width="1.75"/>
<line x1="585.95" y1="15.65" x2="646.7" y2="15.65" stroke="#2e2e2e" stroke-width="1.65"/>
<line x1="585.95" y1="33.55" x2="646.7" y2="33.55" stroke="#2e2e2e" stroke-width="1.7"/>
<line x1="627" y1="15.65" x2="627" y2="310.74" stroke="#2e2e2e" stroke-width="1.65"/>
<text x="617.25" y="12.2" font-size="7.8" font-weight="bold" text-anchor="middle" fill="#1a1a1a" stroke="#1a1a1a" stroke-width="0.3">School #4</text>
<text x="595.9" y="28" font-size="6.75" font-weight="bold" text-anchor="middle" fill="#1a1a1a" stroke="#1a1a1a" stroke-width="0.3">N1</text>
<line x1="596" y1="30.85" x2="596" y2="33.55" stroke="#2e2e2e" stroke-width="1.25"/>
<text x="616.3" y="28" font-size="6.75" font-weight="bold" text-anchor="middle" fill="#1a1a1a" stroke="#1a1a1a" stroke-width="0.3">N2</text>
<line x1="616.4" y1="30.85" x2="616.4" y2="33.55" stroke="#2e2e2e" stroke-width="1.25"/>
<text x="636.3" y="28" font-size="6.75" font-weight="bold" text-anchor="middle" fill="#1a1a1a" stroke="#1a1a1a" stroke-width="0.3">CCC</text>
<line x1="636.4" y1="30.85" x2="636.4" y2="33.55" stroke="#2e2e2e" stroke-width="1.25"/>
<text x="581.2" y="44.12" font-size="7.05" font-weight="bold" text-anchor="end" fill="#1a1a1a" stroke="#1a1a1a" stroke-width="0.3">Jan 18 2021</text>
<line x1="582.55" y1="41.22" x2="585.95" y2="41.22" stroke="#2e2e2e" stroke-width="1.4"/>
<text x="581.2" y="59.47" font-size="7.05" font-weight="bold" text-anchor="end" fill="#1a1a1a" stroke="#1a1a1a" stroke-width="0.3">Jan 20 2021</text>
<line x1="582.55" y1="56.57" x2="585.95" y2="56.57" stroke="#2e2e2e" stroke-width="1.4"/>
<text x="581.2" y="74.81" font-size="7.05" font-weight="bold" text-anchor="end" fill="#1a1a1a" stroke="#1a1a1a" stroke-width="0.3">Jan 25 2021</text>
<line x1="582.55" y1="71.91" x2="585.95" y2="71.91" stroke="#2e2e2e" stroke-width="1.4"/>
<text x="581.2" y="90.15" font-size="7.05" font-weight="bold" text-anchor="end" fill="#1a1a1a" stroke="#1a1a1a" stroke-width="0.3">Feb 1 2021</text>
<line x1="582.55" y1="87.25" x2="585.95" y2="87.25" stroke="#2e2e2e" stroke-width="1.4"/>
<text x="581.2" y="105.5" font-size="7.05" font-weight="bold" text-anchor="end" fill="#1a1a1a" stroke="#1a1a1a" stroke-width="0.3">Feb 3 2021</text>
<line x1="582.55" y1="102.6" x2="585.95" y2="102.6" stroke="#2e2e2e" stroke-width="1.4"/>
<text x="581.2" y="120.84" font-size="7.05" font-weight="bold" text-anchor="end" fill="#1a1a1a" stroke="#1a1a1a" stroke-width="0.3">Feb 8 2021</text>
<line x1="582.55" y1="117.94" x2="585.95" y2="117.94" stroke="#2e2e2e" stroke-width="1.4"/>
<text x="581.2" y="136.19" font-size="7.05" font-weight="bold" text-anchor="end" fill="#1a1a1a" stroke="#1a1a1a" stroke-width="0.3">Feb 10 2021</text>
<line x1="582.55" y1="133.29" x2="585.95" y2="133.29" stroke="#2e2e2e" stroke-width="1.4"/>
<text x="581.2" y="151.53" font-size="7.05" font-weight="bold" text-anchor="end" fill="#1a1a1a" stroke="#1a1a1a" stroke-width="0.3">Feb 17 2021</text>
<line x1="582.55" y1="148.63" x2="585.95" y2="148.63" stroke="#2e2e2e" stroke-width="1.4"/>
<text x="581.2" y="166.87" font-size="7.05" font-weight="bold" text-anchor="end" fill="#1a1a1a" stroke="#1a1a1a" stroke-width="0.3">Feb 22 2021</text>
<line x1="582.55" y1="163.97" x2="585.95" y2="163.97" stroke="#2e2e2e" stroke-width="1.4"/>
<text x="581.2" y="182.22" font-size="7.05" font-weight="bold" text-anchor="end" fill="#1a1a1a" stroke="#1a1a1a" stroke-width="0.3">Feb 24 2021</text>
<line x1="582.55" y1="179.32" x2="585.95" y2="179.32" stroke="#2e2e2e" stroke-width="1.4"/>
<text x="581.2" y="197.56" font-size="7.05" font-weight="bold" text-anchor="end" fill="#1a1a1a" stroke="#1a1a1a" stroke-width="0.3">Mar 1 2021</text>
<line x1="582.55" y1="194.66" x2="585.95" y2="194.66" stroke="#2e2e2e" stroke-width="1.4"/>
<text x="581.2" y="212.91" font-size="7.05" font-weight="bold" text-anchor="end" fill="#1a1a1a" stroke="#1a1a1a" stroke-width="0.3">Mar 3 2021</text>
<line x1="582.55" y1="210.01" x2="585.95" y2="210.01" stroke="#2e2e2e" stroke-width="1.4"/>
<text x="581.2" y="228.25" font-size="7.05" font-weight="bold" text-anchor="end" fill="#1a1a1a" stroke="#1a1a1a" stroke-width="0.3">Mar 8 2021</text>
<line x1="582.55" y1="225.35" x2="585.95" y2="225.35" stroke="#2e2e2e" stroke-width="1.4"/>
<text x="581.2" y="243.59" font-size="7.05" font-weight="bold" text-anchor="end" fill="#1a1a1a" stroke="#1a1a1a" stroke-width="0.3">Mar 10 2021</text>
<line x1="582.55" y1="240.69" x2="585.95" y2="240.69" stroke="#2e2e2e" stroke-width="1.4"/>
<text x="581.2" y="258.94" font-size="7.05" font-weight="bold" text-anchor="end" fill="#1a1a1a" stroke="#1a1a1a" stroke-width="0.3">Mar 15 2021</text>
<line x1="582.55" y1="256.04" x2="585.95" y2="256.04" stroke="#2e2e2e" stroke-width="1.4"/>
<text x="581.2" y="274.28" font-size="7.05" font-weight="bold" text-anchor="end" fill="#1a1a1a" stroke="#1a1a1a" stroke-width="0.3">Mar 17 2021</text>
<line x1="582.55" y1="271.38" x2="585.95" y2="271.38" stroke="#2e2e2e" stroke-width="1.4"/>
<text x="581.2" y="289.63" font-size="7.05" font-weight="bold" text-anchor="end" fill="#1a1a1a" stroke="#1a1a1a" stroke-width="0.3">Mar 22 2021</text>
<line x1="582.55" y1="286.73" x2="585.95" y2="286.73" stroke="#2e2e2e" stroke-width="1.4"/>
<text x="581.2" y="304.97" font-size="7.05" font-weight="bold" text-anchor="end" fill="#1a1a1a" stroke="#1a1a1a" stroke-width="0.3">Mar 24 2021</text>
<line x1="582.55" y1="302.07" x2="585.95" y2="302.07" stroke="#2e2e2e" stroke-width="1.4"/>
<rect x="658.5" y="34.2" width="12.3" height="276.7" fill="url(#cb)"/>
<rect x="658.2" y="34.2" width="1" height="277" fill="url(#cbb)"/>
<rect x="670.1" y="34.2" width="1" height="277" fill="url(#cbb)"/>
<line x1="658.2" y1="310.7" x2="671.1" y2="310.7" stroke="#6a6a72" stroke-width="1"/>
<line x1="658.2" y1="34.5" x2="671.1" y2="34.5" stroke="#2c3580" stroke-width="0.6"/>
<text x="675.1" y="313.35" font-size="7.6" font-weight="normal" text-anchor="start" fill="#1c1c1c" stroke="#1c1c1c" stroke-width="0.26">0</text>
<line x1="658.2" y1="203.88" x2="660.6" y2="203.88" stroke="#1c1c30" stroke-width="0.9"/>
<line x1="668.7" y1="203.88" x2="671.1" y2="203.88" stroke="#1c1c30" stroke-width="0.9"/>
<text x="675.1" y="206.63" font-size="7.6" font-weight="normal" text-anchor="start" fill="#1c1c1c" stroke="#1c1c1c" stroke-width="0.26">10</text>
<line x1="658.2" y1="97.16" x2="660.6" y2="97.16" stroke="#1c1c30" stroke-width="0.9"/>
<line x1="668.7" y1="97.16" x2="671.1" y2="97.16" stroke="#1c1c30" stroke-width="0.9"/>
<text x="675.1" y="99.91" font-size="7.6" font-weight="normal" text-anchor="start" fill="#1c1c1c" stroke="#1c1c1c" stroke-width="0.26">20</text>
<text x="667.8" y="26.3" font-size="7.3" font-weight="bold" text-anchor="middle" fill="#1c1c1c" stroke="#1c1c1c" stroke-width="0.18">genes/mL</text>
<text x="667.9" y="32.6" font-size="7.3" font-weight="bold" text-anchor="middle" fill="#1c1c1c" stroke="#1c1c1c" stroke-width="0.18">of WW</text>
<line x1="428.4" y1="78.3" x2="447.8" y2="78.3" stroke="#6cc7b1" stroke-width="0.8"/>
<rect x="58.1" y="363" width="20.5" height="12.3" fill="#fff" stroke="#b4b4b4" stroke-width="0.8"/>
<text x="83" y="371" font-size="7.25" font-weight="normal" text-anchor="start" fill="#222" stroke="#222" stroke-width="0.2">Sample collected, result was negative</text>
<path d="M58.2 381.5L60.2 379.5M58.2 386.45L65.15 379.5M58.5 391.1L70.1 379.5M63.45 391.1L75.05 379.5M68.4 391.1L78.3 381.2M73.35 391.1L78.3 386.15" fill="none" stroke="#383838" stroke-width="1.3" stroke-linecap="butt"/>
<rect x="57.9" y="379.2" width="20.7" height="12.2" fill="none" stroke="#8a8a8a" stroke-width="0.8"/>
<text x="81.6" y="389" font-size="7.25" font-weight="normal" text-anchor="start" fill="#222" stroke="#222" stroke-width="0.2">Insufficient sample due to challenges</text>
<rect x="215" y="360.5" width="20.4" height="12" fill="#fff" stroke="#b4b4b4" stroke-width="0.8"/>
<circle cx="225.6" cy="366.3" r="2.8" fill="#0a0a0a"/>
<text x="237.4" y="370" font-size="7.25" font-weight="normal" text-anchor="start" fill="#222" stroke="#222" stroke-width="0.2">Clinically identified case</text>
<rect x="215.5" y="376.1" width="20.4" height="11.9" fill="#fff" stroke="#b4b4b4" stroke-width="0.8"/>
<path d="M225.45 377.8 V386" fill="none" stroke="#222" stroke-width="0.95" stroke-linecap="butt"/>
<path d="M221.5 382.5 L225.45 386 L229.4 382.5" fill="none" stroke="#222" stroke-width="1.1" stroke-linecap="round" stroke-linejoin="miter"/>
<text x="237.4" y="386.3" font-size="7.25" font-weight="normal" text-anchor="start" fill="#222" stroke="#222" stroke-width="0.2">Clincally identified case (on future date not shown)</text>
<rect x="215.5" y="390.9" width="20.5" height="13.6" fill="#fff" stroke="#b4b4b4" stroke-width="0.8"/>
<path d="M225.5 402.4 V394.7" fill="none" stroke="#222" stroke-width="0.95" stroke-linecap="butt"/>
<path d="M221.55 398.2 L225.5 394.7 L229.45 398.2" fill="none" stroke="#222" stroke-width="1.1" stroke-linecap="round" stroke-linejoin="miter"/>
<text x="237.8" y="401.6" font-size="7.25" font-weight="normal" text-anchor="start" fill="#222" stroke="#222" stroke-width="0.2">Clinically identified case (on past date not shown)</text>
</svg>
</body></html>
